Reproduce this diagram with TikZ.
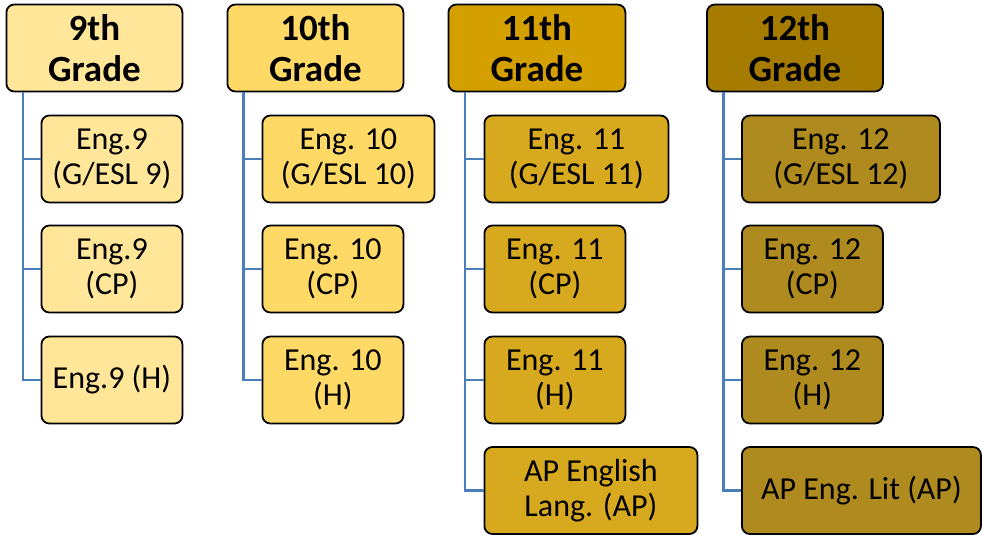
\documentclass[tikz,border=0pt]{standalone}
\usepackage{fontspec}
\setmainfont{Carlito}
\usepackage{tikz}

\definecolor{gradenine}{HTML}{FFE699}
\definecolor{gradeten}{HTML}{FFD966}
\definecolor{gradeeleven}{HTML}{D4A000}
\definecolor{courseeleven}{HTML}{D7A91E}
\definecolor{gradetwelve}{HTML}{A67C00}
\definecolor{coursetwelve}{HTML}{AF8A1E}
\definecolor{linkblue}{HTML}{4A7EBB}

\tikzset{
	box/.style={draw=black, line width=1.8pt, rounded corners=8pt, align=center, inner sep=0pt, minimum height=87pt, anchor=west},
	grade/.style={box, minimum width=176pt, font=\fontsize{37}{41}\selectfont\bfseries},
	course/.style={box, minimum width=141pt, font=\fontsize{32}{35}\selectfont},
	link/.style={draw=linkblue, line width=2.4pt}
}

\begin{document}
\begin{tikzpicture}[x=1pt, y=-1pt]
	\useasboundingbox (0,0) rectangle (982,535);
	% grade headers
	\node [grade, fill=gradenine] (g9) at (5.5,48) {9th\\Grade};
	\node [grade, fill=gradeten] (g10) at (226.5,48) {10th\\Grade};
	\node [grade, fill=gradeeleven, minimum width=177pt] (g11) at (447.5,48) {11th\\Grade};
	\node [grade, fill=gradetwelve] (g12) at (706,48) {12th\\Grade};

	% courses
	\node [course, fill=gradenine] (g9a) at (40.5,159) {Eng.9\\(G/ESL 9)};
	\node [course, fill=gradenine] (g9b) at (40.5,269) {Eng.9\\(CP)};
	\node [course, fill=gradenine] (g9c) at (40.5,380) {Eng.9 (H)};

	\node [course, fill=gradeten, minimum width=172pt] (g10a) at (261.5,159) {Eng. 10\\(G/ESL 10)};
	\node [course, fill=gradeten] (g10b) at (261.5,269) {Eng. 10\\(CP)};
	\node [course, fill=gradeten] (g10c) at (261.5,380) {Eng. 10\\(H)};

	\node [course, fill=courseeleven, minimum width=184pt] (g11a) at (483.5,159) {Eng. 11\\(G/ESL 11)};
	\node [course, fill=courseeleven] (g11b) at (483.5,269) {Eng. 11\\(CP)};
	\node [course, fill=courseeleven] (g11c) at (483.5,380) {Eng. 11\\(H)};
	\node [course, fill=courseeleven, minimum width=213pt] (g11d) at (483.5,490.5) {AP English\\Lang. (AP)};

	\node [course, fill=coursetwelve, minimum width=198pt] (g12a) at (741,159) {Eng. 12\\(G/ESL 12)};
	\node [course, fill=coursetwelve] (g12b) at (741,269) {Eng. 12\\(CP)};
	\node [course, fill=coursetwelve] (g12c) at (741,380) {Eng. 12\\(H)};
	\node [course, fill=coursetwelve, minimum width=239pt] (g12d) at (741,490.5) {AP Eng. Lit (AP)};

	% connectors
	\coordinate (t9) at (23,92);
	\coordinate (t10) at (243.5,92);
	\coordinate (t11) at (465,92);
	\coordinate (t12) at (723.5,92);
	\foreach \c in {g9a,g9b,g9c}
		\draw [link] (t9) |- (\c.west);
	\foreach \c in {g10a,g10b,g10c}
		\draw [link] (t10) |- (\c.west);
	\foreach \c in {g11a,g11b,g11c,g11d}
		\draw [link] (t11) |- (\c.west);
	\foreach \c in {g12a,g12b,g12c,g12d}
		\draw [link] (t12) |- (\c.west);
\end{tikzpicture}
\end{document}
